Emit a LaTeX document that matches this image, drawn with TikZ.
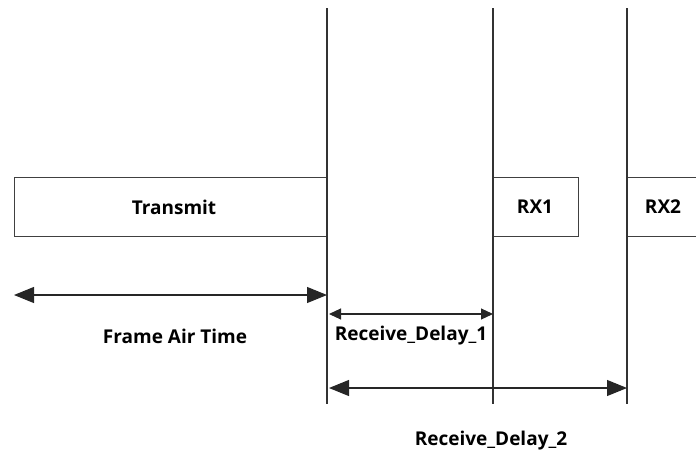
\documentclass[tikz,border=0pt]{standalone}
\usepackage{fontspec}
\setmainfont{Open Sans}
\usetikzlibrary{arrows.meta}
\begin{document}
\begin{tikzpicture}[x=1pt,y=-1pt,
  line/.style={draw=black!80, line width=1.3pt},
  box/.style={draw=black!75, line width=1pt, fill=white},
  lbl/.style={font=\fontsize{19}{22}\selectfont\bfseries, inner sep=0pt},
  bigarrow/.style={black!85, line width=1.1pt, {Triangle[length=20pt,width=16pt]}-{Triangle[length=20pt,width=16pt]}},
  smallarrow/.style={black!85, line width=1.1pt, {Triangle[length=12pt,width=11pt]}-{Triangle[length=12pt,width=11pt]}}
]
\useasboundingbox (0,0) rectangle (696,453);
% vertical lines
\coordinate (v1t) at (327,8);  \coordinate (v1b) at (327,404);
\coordinate (v2t) at (493,8);  \coordinate (v2b) at (493,404);
\coordinate (v3t) at (627,8);  \coordinate (v3b) at (627,404);
% boxes
\draw[box] (14,177) rectangle (327,236);
\node[lbl] (tx) at (174,207) {Transmit};
\draw[box] (493,177) rectangle (578,236);
\node[lbl] (rx1) at (535,207) {RX1};
\draw[box] (627,177) -- (700,177) (627,236) -- (700,236);
\node[lbl] (rx2) at (663,207) {RX2};
\draw[line] (v1t) -- (v1b);
\draw[line] (v2t) -- (v2b);
\draw[line] (v3t) -- (v3b);
% arrows
\coordinate (fa1) at (14,295); \coordinate (fa2) at (327,295);
\draw[bigarrow] (fa1) -- (fa2);
\node[lbl] (fat) at (175,336) {Frame Air Time};
\coordinate (r1a) at (329,314); \coordinate (r1b) at (493,314);
\draw[smallarrow] (r1a) -- (r1b);
\node[lbl] (r1t) at (411,336) {Receive\_Delay\_1};
\coordinate (r2a) at (329,388); \coordinate (r2b) at (627,388);
\draw[bigarrow] (r2a) -- (r2b);
\node[lbl] (r2t) at (491,441) {Receive\_Delay\_2};
\end{tikzpicture}
\end{document}
